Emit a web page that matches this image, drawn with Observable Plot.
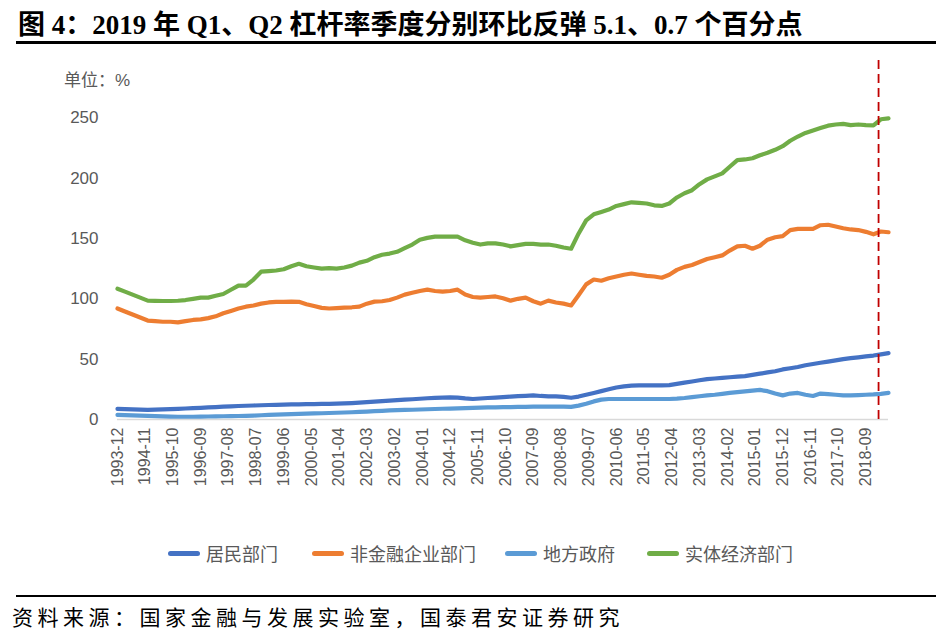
<!DOCTYPE html>
<html>
<head>
<meta charset="utf-8">
<script src="https://cdn.jsdelivr.net/npm/d3@7"></script>
<script src="https://cdn.jsdelivr.net/npm/@observablehq/plot@0.6"></script>
<style>
  html, body { margin: 0; padding: 0; background: #fff; }
  #wrap { position: relative; width: 952px; height: 641px; overflow: hidden; background: #fff; }
  #title { position: absolute; left: 18px; top: 3px; font-family: "Liberation Serif", "Noto Sans CJK SC", serif; font-weight: bold; font-size: 27px; color: #000; white-space: nowrap; }
  #rule1 { position: absolute; left: 16px; top: 41px; width: 920px; height: 3px; background: #000; }
  #unit { position: absolute; left: 64px; top: 66px; font-family: "Liberation Sans", "Noto Sans CJK SC", sans-serif; font-size: 17px; color: #595959; }
  #chart { position: absolute; left: 0; top: 0; }
  #legend { position: absolute; top: 541px; left: 0; width: 952px; font-family: "Liberation Sans", "Noto Sans CJK SC", sans-serif; font-size: 18px; color: #595959; }
  .item { position: absolute; top: 0; white-space: nowrap; display: flex; align-items: center; height: 24px; }
  .sw { display: inline-block; width: 32px; height: 5px; border-radius: 3px; margin-right: 6px; }
  #rule2 { position: absolute; left: 16px; top: 595px; width: 920px; height: 2px; background: #000; }
  #source { position: absolute; left: 12px; top: 601px; font-family: "Noto Sans CJK SC", sans-serif; font-size: 21px; letter-spacing: 4.5px; color: #000; white-space: nowrap; }
</style>
</head>
<body>
<div id="wrap">
  <div id="chart"></div>
  <div id="title">图 4：2019 年 Q1、Q2 杠杆率季度分别环比反弹 5.1、0.7 个百分点</div>
  <div id="rule1"></div>
  <div id="unit">单位：%</div>
  <div id="legend"></div>
  <div id="rule2"></div>
  <div id="source">资料来源：国家金融与发展实验室，国泰君安证券研究</div>
</div>
<script>
// Quarterly observations from 1993-12 to 2019-06 (103 points)
const startYear = 1993, startMonth = 12;

const household = [ // 居民部门
  8.8,
  8.6, 8.4, 8.2, 8.0,
  8.2, 8.4, 8.6, 8.8,
  9.1, 9.4, 9.7, 10,
  10.3, 10.6, 10.9, 11.2,
  11.4, 11.6, 11.8, 12,
  12.2, 12.4, 12.5, 12.6,
  12.7, 12.8, 12.9, 13,
  13.1, 13.3, 13.6, 14,
  14.4, 14.8, 15.2, 15.6,
  16, 16.4, 16.8, 17.2,
  17.6, 18, 18.2, 18.3,
  18.2, 17.5, 17, 17.4,
  17.8, 18.2, 18.6, 19,
  19.3, 19.6, 20, 19.5,
  19.2, 19.2, 18.8, 18,
  19, 20.5, 22, 23.5,
  25, 26.5, 27.5, 28,
  28.2, 28.2, 28.2, 28.3,
  28.5, 29.5, 30.5, 31.5,
  32.5, 33.5, 34, 34.5,
  35, 35.5, 36, 37,
  38, 39, 40, 41.5,
  42.5, 43.5, 45, 46,
  47, 48, 49, 50,
  50.8, 51.5, 52.3, 53,
  54, 55
];

const nonFinCorp = [ // 非金融企业部门
  92,
  89.5, 87, 84.5, 82,
  81.5, 81, 81, 80.5,
  81.5, 82.5, 83, 84,
  85.5, 88, 90, 92,
  93.5, 94.5, 96, 97,
  97.5, 97.5, 97.7, 97.5,
  95.5, 94, 92.5, 92,
  92.3, 92.7, 93, 93.5,
  96, 97.7, 98, 99,
  101, 103.5, 105, 106.5,
  107.6, 106.5, 106, 106.5,
  107.6, 103.5, 101.5, 101,
  101.5, 102, 100.5, 98.5,
  100, 101, 98, 96,
  98.5, 97, 96, 94.5,
  103, 112, 116, 115,
  117, 118.5, 120, 121,
  120, 119, 118.5, 117.5,
  120, 124, 126.5, 128,
  130.5, 133, 134.5, 136,
  140, 143.5, 144, 141.5,
  144, 149, 151, 152,
  157, 158, 158, 158,
  161, 161.4, 160, 158.5,
  157.5, 157, 155.5, 153.5,
  155.8, 155.2
];

const localGov = [ // 地方政府
  3.8,
  3.6, 3.4, 3.2, 3.0,
  2.8, 2.6, 2.4, 2.3,
  2.3, 2.3, 2.4, 2.5,
  2.6, 2.7, 2.8, 2.9,
  3.0, 3.2, 3.5, 3.8,
  4.0, 4.2, 4.4, 4.6,
  4.8, 5.0, 5.2, 5.4,
  5.6, 5.8, 6.0, 6.3,
  6.6, 6.9, 7.2, 7.5,
  7.7, 7.9, 8.1, 8.3,
  8.5, 8.7, 8.9, 9.0,
  9.2, 9.4, 9.6, 9.8,
  10, 10.1, 10.2, 10.3,
  10.4, 10.5, 10.6, 10.7,
  10.7, 10.7, 10.6, 10.5,
  11.5, 13, 15, 16.5,
  17, 17, 17, 17,
  17, 17, 17, 17,
  17, 17.3, 17.8, 18.5,
  19.3, 20, 20.5, 21.2,
  22, 22.7, 23.3, 24,
  24.5, 23.5, 21.5, 20,
  21.5, 22, 20.5, 19.5,
  21.5, 21, 20.5, 20,
  20, 20.2, 20.5, 20.8,
  21.3, 22
];

const realEconomy = [ // 实体经济部门
  108.4,
  106, 103.5, 101, 98.5,
  98.3, 98.2, 98.2, 98.4,
  99, 100, 101, 101,
  102.5, 104, 107.5, 111,
  111, 116, 122.5, 123,
  123.5, 124.5, 127, 129,
  127, 126, 125, 125.5,
  125, 126, 127.5, 130,
  131.5, 134.5, 136.5, 137.5,
  139, 142, 145, 149,
  150.5, 151.5, 151.5, 151.5,
  151.5, 148.5, 146.5, 145,
  146, 146, 145, 143.5,
  144.5, 145.5, 145.5, 145,
  145, 144, 142.5, 141.5,
  154, 165, 170, 172,
  174, 177, 178.5, 180,
  179.5, 179, 177.5, 177,
  179, 184, 187.5, 190,
  195, 199, 201.5, 204,
  209.5, 215, 215.5, 216.5,
  219, 221, 223.5, 226.5,
  231, 234.5, 237.5, 239.5,
  241.5, 243.5, 244.5, 245,
  244, 244.5, 244, 243.7,
  248.8, 249.5
];

const seriesNames = ["居民部门", "非金融企业部门", "地方政府", "实体经济部门"];
const seriesColors = ["#4472C4", "#ED7D31", "#5B9BD5", "#70AD47"];
const seriesValues = [household, nonFinCorp, localGov, realEconomy];

const xTickLabels = ["1993-12","1994-11","1995-10","1996-09","1997-08","1998-07","1999-06",
  "2000-05","2001-04","2002-03","2003-02","2004-01","2004-12","2005-11","2006-10","2007-09",
  "2008-08","2009-07","2010-06","2011-05","2012-04","2013-03","2014-02","2015-01","2015-12",
  "2016-11","2017-10","2018-09"];
const yTicks = [0, 50, 100, 150, 200, 250];
const markerDate = "2019-02";

const parseYM = d3.utcParse("%Y-%m");
const fmtYM = d3.utcFormat("%Y-%m");
const n = household.length;
const dates = d3.range(n).map(i => new Date(Date.UTC(startYear, startMonth - 1 + 3 * i, 1)));

const rows = [];
seriesNames.forEach((name, s) => {
  seriesValues[s].forEach((v, i) => rows.push({date: dates[i], value: v, series: name}));
});

const chart = Plot.plot({
  width: 952,
  height: 520,
  marginLeft: 117,
  marginRight: 64,
  marginTop: 57,
  marginBottom: 101,
  style: {fontFamily: "'Liberation Sans', 'Noto Sans CJK SC', sans-serif", color: "#595959", background: "transparent"},
  x: {type: "utc", domain: [dates[0], dates[n - 1]]},
  y: {domain: [0, 300]},
  color: {domain: seriesNames, range: seriesColors},
  marks: [
    Plot.axisY({ticks: yTicks, tickSize: 0, tickPadding: 19, fontSize: 17, label: null}),
    Plot.axisX({ticks: xTickLabels.map(parseYM), tickFormat: fmtYM, tickRotate: -90, tickSize: 0, tickPadding: 8, fontSize: 16, label: null}),
    Plot.ruleY([0], {stroke: "#d9d9d9", strokeWidth: 1.5}),
    ...seriesNames.map(name => Plot.line(rows.filter(r => r.series === name), {
      x: "date", y: "value", stroke: "series", strokeWidth: 4.2, strokeLinejoin: "round", strokeLinecap: "round"
    })),
    Plot.ruleX([parseYM(markerDate)], {y1: 0, y2: 300, stroke: "#C00000", strokeWidth: 1.8, strokeDasharray: "9,5"})
  ]
});
document.getElementById("chart").appendChild(chart);

// Legend
const legend = document.getElementById("legend");
const lefts = [168, 312, 505, 647];
seriesNames.forEach((name, i) => {
  const it = document.createElement("div");
  it.className = "item";
  it.style.left = lefts[i] + "px";
  it.innerHTML = `<span class="sw" style="background:${seriesColors[i]}"></span><span>${name}</span>`;
  legend.appendChild(it);
});
</script>
</body>
</html>
